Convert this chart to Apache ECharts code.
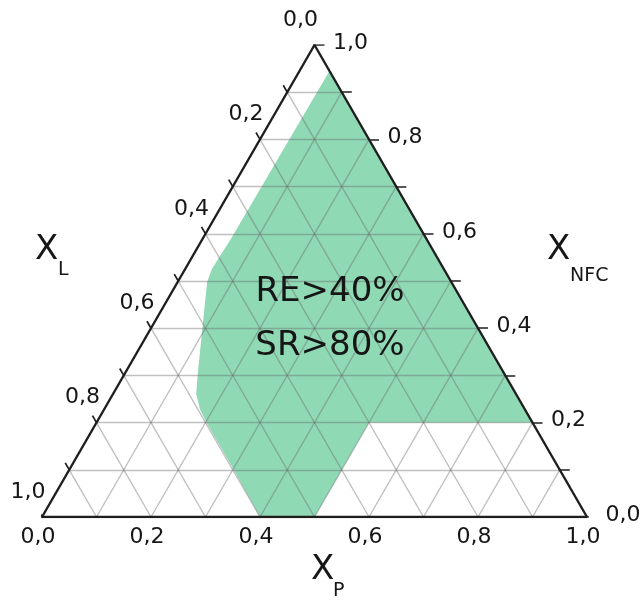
<!DOCTYPE html>
<html><head><meta charset="utf-8">
<script src="https://cdn.jsdelivr.net/npm/echarts@6/dist/echarts.min.js"></script>
<style>html,body{margin:0;padding:0;background:#fff}#c{width:640px;height:606px}</style>
</head><body><div id="c"></div>
<script>
// Ternary components: P = X_P (bottom), N = X_NFC (right side), L = X_L = 1 - P - N (left side)
const gridSteps = [0.1, 0.2, 0.3, 0.4, 0.5, 0.6, 0.7, 0.8, 0.9];
const tickValues = [0, 0.1, 0.2, 0.3, 0.4, 0.5, 0.6, 0.7, 0.8, 0.9, 1];
const labelValues = [0, 0.2, 0.4, 0.6, 0.8, 1];
// Shaded region boundary (X_P, X_NFC pairs)
const regionP = [0.40, 0.50, 0.50, 0.80, 0.055, 0.052, 0.049, 0.054, 0.089, 0.133, 0.153, 0.176, 0.200, 0.298];
const regionN = [0.00, 0.00, 0.20, 0.20, 0.945, 0.589, 0.526, 0.498, 0.413, 0.306, 0.260, 0.228, 0.202, 0.104];
const regionText = ['RE>40%', 'SR>80%'];
const axisNames = ['X', 'X', 'X'];
const axisSubs = ['L', 'NFC', 'P'];

const S = Math.sqrt(3) / 2;
const toXY = (p, n) => [p + n / 2, n * S];
const fmt = v => v.toFixed(1).replace('.', ',');
const FONT = 'DejaVu Sans';
const INK = '#161616';

// grid lines
const gridSegs = [];
gridSteps.forEach(v => {
  gridSegs.push({coords: [toXY(0, v), toXY(1 - v, v)]});      // const NFC
  gridSegs.push({coords: [toXY(v, 0), toXY(v, 1 - v)]});      // const P
  gridSegs.push({coords: [toXY(1 - v, 0), toXY(0, 1 - v)]});  // const L
});
const edgeSegs = [
  {coords: [toXY(0, 0), toXY(1, 0)]},
  {coords: [toXY(1, 0), toXY(0, 1)]},
  {coords: [toXY(0, 1), toXY(0, 0)]}
];
const tb = 8 / 545, tr = 10 / 545;
const tickSegs = [];
tickValues.forEach(v => {
  const b = toXY(v, 0);
  tickSegs.push({coords: [b, [b[0] - 0.5 * tb, b[1] - S * tb]]});
  const r = toXY(1 - v, v);
  tickSegs.push({coords: [r, [r[0] + tr, r[1]]]});
  const l = toXY(0, 1 - v);
  tickSegs.push({coords: [l, [l[0] - 0.5 * tb, l[1] + S * tb]]});
});

const lblStyle = (off) => ({show: true, position: 'inside', offset: off, fontFamily: FONT, fontSize: 22, color: INK,
  opacity: 1, formatter: p => fmt(p.value[2])});
const bottomLbl = labelValues.map(v => toXY(v, 0).concat([v]));
const rightLbl = labelValues.map(v => toXY(1 - v, v).concat([v]));
const leftLbl = labelValues.map(v => toXY(0, 1 - v).concat([v]));

const chart = echarts.init(document.getElementById('c'), null, {renderer: 'canvas'});
const txt = (text, x, y, size, align) => ({type: 'text', x: x, y: y, z: 100,
  style: {text: text, fontFamily: FONT, fontSize: size, fill: INK, align: align || 'left', verticalAlign: 'middle'}});
const lblSeries = (data, off) => ({type: 'scatter', silent: true, z: 4, symbolSize: 1,
  itemStyle: {color: 'transparent', opacity: 1}, data: data, label: lblStyle(off)});

chart.setOption({
  animation: false,
  backgroundColor: '#fff',
  grid: {left: 42, top: 45, width: 545, height: 472},
  xAxis: {type: 'value', min: 0, max: 1, show: false},
  yAxis: {type: 'value', min: 0, max: S, show: false},
  series: [
    {type: 'custom', coordinateSystem: 'cartesian2d', silent: true, z: 1, data: [[0, 0]],
      renderItem: (params, api) => ({type: 'polygon',
        shape: {points: regionP.map((p, i) => api.coord(toXY(p, regionN[i])))},
        style: {fill: '#8fd9b5'}})},
    {type: 'lines', coordinateSystem: 'cartesian2d', silent: true, z: 2, data: gridSegs,
      lineStyle: {color: 'rgba(105,105,105,0.42)', width: 1.4, opacity: 1}},
    {type: 'lines', coordinateSystem: 'cartesian2d', silent: true, z: 3, data: edgeSegs,
      lineStyle: {color: '#1e1e1e', width: 2.4, opacity: 1}},
    {type: 'lines', coordinateSystem: 'cartesian2d', silent: true, z: 3, data: tickSegs,
      lineStyle: {color: '#1e1e1e', width: 1.7, opacity: 1}},
    lblSeries(bottomLbl, [-4, 20]),
    lblSeries(rightLbl, [36, -2]),
    lblSeries(leftLbl, [-14, -25])
  ],
  graphic: [
    txt(regionText[0], 330, 292, 34, 'center'),
    txt(regionText[1], 330, 346, 34, 'center'),
    txt(axisNames[0], 35, 250, 34), txt(axisSubs[0], 58, 270, 19),
    txt(axisNames[1], 547, 250, 34), txt(axisSubs[1], 570, 276, 19),
    txt(axisNames[2], 311, 570, 34), txt(axisSubs[2], 333, 591, 19)
  ]
});
</script></body></html>
